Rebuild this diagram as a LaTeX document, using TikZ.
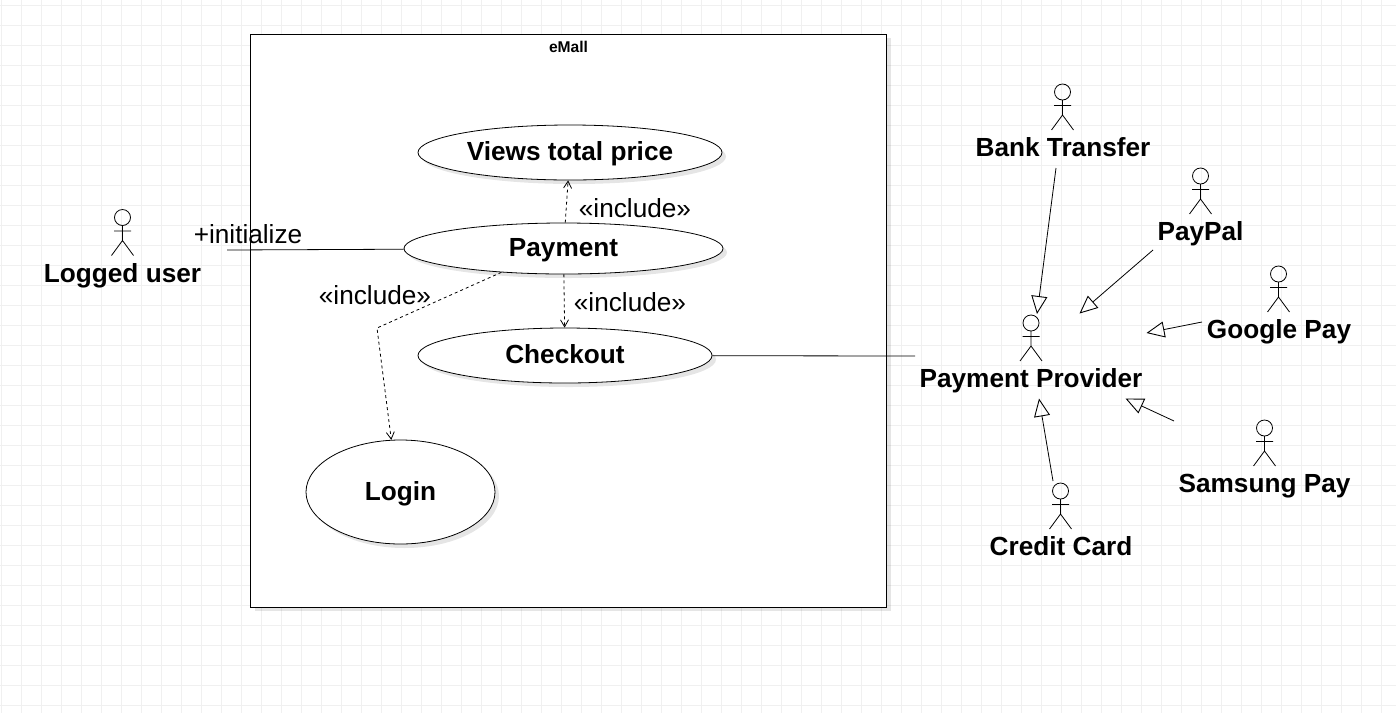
\documentclass[tikz,border=0pt]{standalone}
\usepackage{fontspec}
\setmainfont{Liberation Sans}
\usetikzlibrary{arrows.meta,shapes.geometric,shadows}
\definecolor{gridgray}{HTML}{F0F0F0}
\begin{document}
\begin{tikzpicture}[x=1pt,y=-1pt,line width=.8pt,
    softshadow/.style = {drop shadow={shadow xshift=4pt,shadow yshift=-4pt,fill=black,opacity=.1}},
    usecase/.style = {draw, ellipse, fill=white, softshadow, inner sep=0pt, font=\fontsize{26.2}{30}\selectfont\bfseries, text height=19pt, text depth=3pt},
    actorname/.style = {font=\fontsize{26.2}{30}\selectfont\bfseries, inner sep=0pt, text height=19pt, text depth=5pt},
    linklabel/.style = {font=\fontsize{26.2}{30}\selectfont, inner sep=0pt, text height=19pt, text depth=5pt},
    include/.style = {draw, dashed, dash pattern=on 3pt off 3pt, -{Straight Barb[length=7pt,width=8pt,line width=.8pt]}},
    general/.style = {draw, -{Triangle[open,length=18pt,width=16pt,line width=.9pt]}},
    stickman/.pic = {
        \draw (0,8) circle (8);
        \draw (0,16) -- (0,31) (-8.5,21.5) -- (8.5,21.5) (-11,46) -- (0,31) -- (11,46);
    }]
    \useasboundingbox (0,0) rectangle (1396,713);
    \fill[white] (0,0) rectangle (1396,713);
    \foreach \gx in {1,21,...,1381} \draw[gridgray,line width=1pt] (\gx,0) -- (\gx,713);
    \foreach \gy in {5,25,...,705} \draw[gridgray,line width=1pt] (0,\gy) -- (1396,\gy);

    \node[draw, fill=white, softshadow, rectangle, minimum width=636pt, minimum height=573pt, inner sep=0pt] (mall) at (568.5,320.5) {};
    \node[inner sep=0pt, font=\fontsize{15.6}{18}\selectfont\bfseries] (malltitle) at (568.5,47) {eMall};

    \node[usecase, minimum width=304pt, minimum height=55pt] (views) at (570,152.5) {Views total price};
    \node[usecase, minimum width=319pt, minimum height=51pt] (pay) at (563.5,248.5) {Payment};
    \node[usecase, minimum width=294pt, minimum height=55pt] (check) at (565,355.5) {Checkout};
    \node[usecase, minimum width=189pt, minimum height=104pt] (login) at (400.5,492) {Login};

    \pic at (122.5,209.5) {stickman};
    \pic at (1062.5,84) {stickman};
    \pic at (1200.5,168) {stickman};
    \pic at (1278.5,266) {stickman};
    \pic at (1031,315) {stickman};
    \pic at (1264.5,420) {stickman};
    \pic at (1060.5,483) {stickman};

    \node[actorname] (logged) at (122.5,275) {Logged user};
    \node[actorname] (bank) at (1063,149) {Bank Transfer};
    \node[actorname] (paypal) at (1200.5,233) {PayPal};
    \node[actorname] (google) at (1279,331) {Google Pay};
    \node[actorname] (provider) at (1031,380) {Payment Provider};
    \node[actorname] (samsung) at (1264.5,485) {Samsung Pay};
    \node[actorname] (credit) at (1061,548) {Credit Card};

    \node[linklabel] (init) at (248,236) {+initialize};
    \node[linklabel] (incviews) at (635,210) {«include»};
    \node[linklabel] (inccheck) at (630,304) {«include»};
    \node[linklabel] (inclogin) at (375,297) {«include»};

    \coordinate (loggedend) at (227,250);
    \coordinate (loginbend) at (377,328);
    \coordinate (providerend) at (915,356);
    \coordinate (bankstart) at (1056,168);
    \coordinate (bankend) at (1037,314);
    \coordinate (paypalstart) at (1153,250);
    \coordinate (paypalend) at (1079.5,313.5);
    \coordinate (googlestart) at (1202,322);
    \coordinate (googleend) at (1146.5,333);
    \coordinate (samsungstart) at (1174,421);
    \coordinate (samsungend) at (1125.5,398.5);
    \coordinate (creditstart) at (1053,481);
    \coordinate (creditend) at (1039,398.5);

    \draw (loggedend) -- (pay);
    \draw (check) -- (providerend);
    \draw[include] (pay) -- (views);
    \draw[include] (pay) -- (check);
    \draw[include] (pay.201) -- (loginbend) -- (login.100);
    \draw[general] (bankstart) -- (bankend);
    \draw[general] (paypalstart) -- (paypalend);
    \draw[general] (googlestart) -- (googleend);
    \draw[general] (samsungstart) -- (samsungend);
    \draw[general] (creditstart) -- (creditend);
\end{tikzpicture}
\end{document}
